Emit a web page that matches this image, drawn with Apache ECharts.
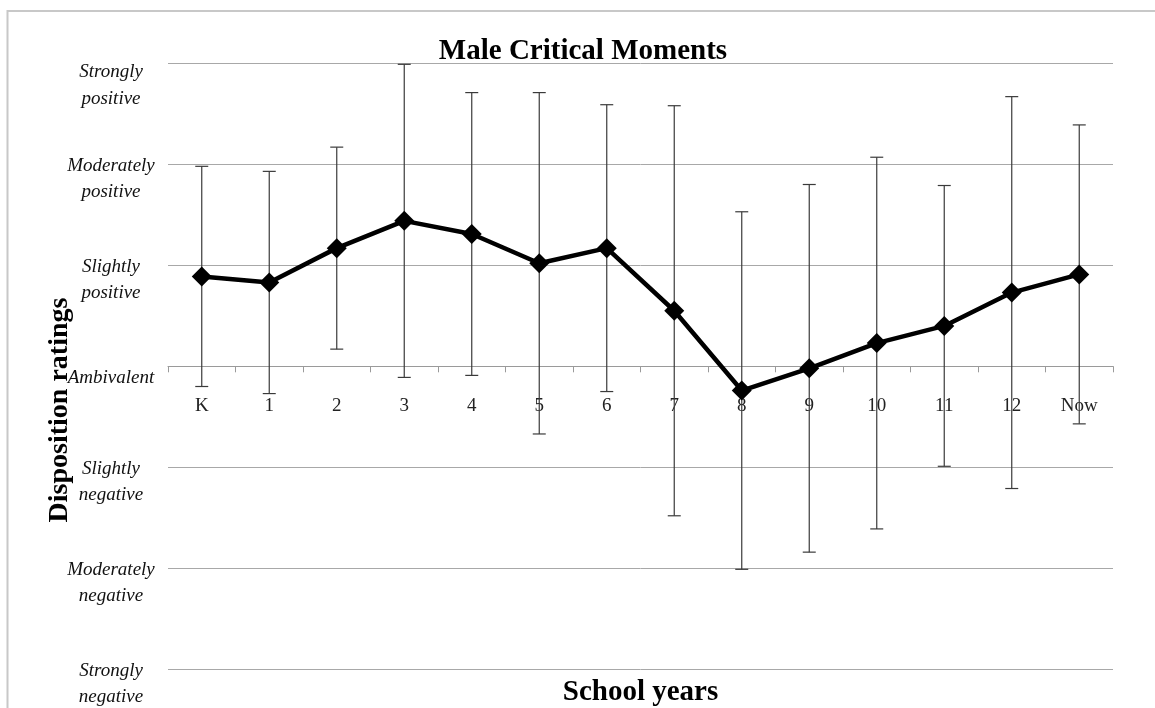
<!DOCTYPE html>
<html>
<head>
<meta charset="utf-8">
<script src="https://cdn.jsdelivr.net/npm/echarts@6/dist/echarts.min.js"></script>
<style>
  html, body { margin: 0; padding: 0; background: #fff; }
  #chart { width: 1155px; height: 708px; }
</style>
</head>
<body>
<div id="chart"></div>
<script>
// Categories (school years)
const categories = ['K', '1', '2', '3', '4', '5', '6', '7', '8', '9', '10', '11', '12', 'Now'];
// Mean disposition rating (-3 strongly negative ... +3 strongly positive)
const means = [0.89, 0.83, 1.17, 1.44, 1.31, 1.02, 1.17, 0.55, -0.24, -0.02, 0.23, 0.40, 0.73, 0.91];
// Error bar half-lengths
const errors = [1.09, 1.10, 1.00, 1.55, 1.40, 1.69, 1.42, 2.03, 1.77, 1.82, 1.84, 1.39, 1.94, 1.48];
// Y tick labels from -3 to 3
const yTickLabels = ['Strongly\nnegative', 'Moderately\nnegative', 'Slightly\nnegative', 'Ambivalent',
                     'Slightly\npositive', 'Moderately\npositive', 'Strongly\npositive'];

const SERIF = '"Liberation Serif", "Times New Roman", serif';

const errData = categories.map((c, i) => [i, means[i] - errors[i], means[i] + errors[i]]);

const GRID_TOP = 63.3, GRID_BOTTOM = 38.7, H = 708;
const plotH = H - GRID_TOP - GRID_BOTTOM;
// move the category axis up to the zero line (y range -3..3, zero in the middle)
const xAxisOffset = -plotH / 2;

const labelStyle = { fontSize: 19, fontStyle: 'italic', fontFamily: SERIF, color: '#111' };

const chart = echarts.init(document.getElementById('chart'));
chart.setOption({
  animation: false,
  backgroundColor: '#fff',
  grid: { left: 168, right: 42, top: GRID_TOP, bottom: GRID_BOTTOM, containLabel: false, outerBoundsMode: 'none' },
  xAxis: {
    type: 'category',
    data: categories,
    boundaryGap: true,
    position: 'bottom',
    offset: xAxisOffset,
    axisLine: { onZero: false, lineStyle: { color: '#9a9a9a', width: 1 } },
    axisTick: { show: true, length: 6, lineStyle: { color: '#9a9a9a' } },
    axisLabel: { margin: 30, fontSize: 19, fontFamily: SERIF, color: '#222' },
    splitLine: { show: false }
  },
  yAxis: {
    type: 'value',
    min: -3, max: 3, interval: 1,
    axisLine: { show: false },
    axisTick: { show: false },
    splitLine: { lineStyle: { color: '#a8a8a8', width: 1 } },
    axisLabel: {
      margin: 57,
      align: 'center',
      verticalAlign: 'top',
      formatter: function (v) {
        const idx = Math.round(v) + 3;
        const parts = (yTickLabels[idx] || '').split('\n');
        if (parts.length === 1) return '{m|' + parts[0] + '}';
        if (idx === 6) return '{t|' + parts[0] + '}\n{tb|' + parts[1] + '}';
        return '{a|' + parts[0] + '}\n{b|' + parts[1] + '}';
      },
      rich: {
        a: Object.assign({ lineHeight: 4 }, labelStyle),
        b: Object.assign({ lineHeight: 48 }, labelStyle),
        t: Object.assign({ lineHeight: 18 }, labelStyle),
        tb: Object.assign({ lineHeight: 36 }, labelStyle),
        m: Object.assign({ lineHeight: 24 }, labelStyle)
      }
    }
  },
  graphic: [
    { type: 'rect', shape: { x: 7.5, y: 11, width: 1200, height: 760 },
      style: { fill: 'none', stroke: '#c8c8c8', lineWidth: 2 }, silent: true, z: -10 },
    { type: 'text', x: 583, y: 51.5,
      style: { text: 'Male Critical Moments', font: 'bold 29px ' + SERIF, fill: '#000',
               align: 'center', verticalAlign: 'middle' }, z: 10 },
    { type: 'text', x: 640.5, y: 693,
      style: { text: 'School years', font: 'bold 29px ' + SERIF, fill: '#000',
               align: 'center', verticalAlign: 'middle' }, z: 10 },
    { type: 'text', x: 60, y: 410, rotation: Math.PI / 2,
      style: { text: 'Disposition ratings', font: 'bold 28px ' + SERIF, fill: '#000',
               align: 'center', verticalAlign: 'middle' }, z: 10 }
  ],
  series: [
    {
      type: 'custom',
      data: errData,
      z: 2,
      renderItem: function (params, api) {
        const x = api.value(0);
        const lo = api.coord([x, api.value(1)]);
        const hi = api.coord([x, api.value(2)]);
        const cap = 6.5;
        const st = { stroke: '#3a3a3a', lineWidth: 1.2 };
        return {
          type: 'group',
          children: [
            { type: 'line', shape: { x1: lo[0], y1: lo[1], x2: hi[0], y2: hi[1] }, style: st },
            { type: 'line', shape: { x1: lo[0] - cap, y1: lo[1], x2: lo[0] + cap, y2: lo[1] }, style: st },
            { type: 'line', shape: { x1: hi[0] - cap, y1: hi[1], x2: hi[0] + cap, y2: hi[1] }, style: st }
          ]
        };
      }
    },
    {
      type: 'line',
      data: means,
      z: 5,
      symbol: 'diamond',
      symbolSize: 20,
      showAllSymbol: true,
      lineStyle: { color: '#000', width: 4.5 },
      itemStyle: { color: '#000' }
    }
  ]
});
</script>
</body>
</html>
